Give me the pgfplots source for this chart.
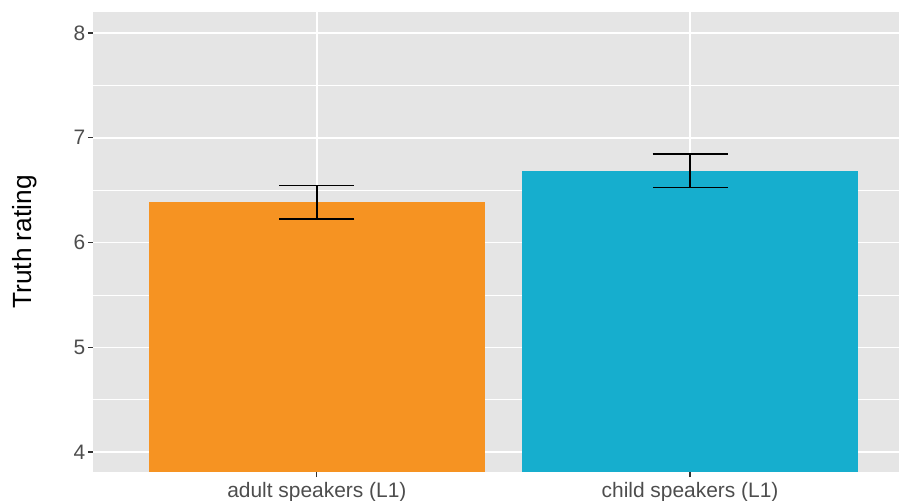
\documentclass[border=0pt]{standalone}
\usepackage{fontspec}
\setmainfont{Liberation Sans}
\usepackage{pgfplots}
\pgfplotsset{compat=1.18}
\definecolor{panelgray}{HTML}{E5E5E5}
\definecolor{barorange}{HTML}{F69322}
\definecolor{barblue}{HTML}{16AECE}
\definecolor{ticktext}{HTML}{4D4D4D}
\definecolor{tickmark}{HTML}{333333}
\begin{document}
\begin{tikzpicture}
\begin{axis}[
  name=ax,
  scale only axis, width=403bp, height=230bp,
  xmin=-0.6, xmax=1.56, ymin=3.81, ymax=8.2,
  axis background/.style={fill=panelgray},
  axis line style={draw=none},
  xtick={0,1}, xticklabels={adult speakers (L1), child speakers (L1)},
  ytick={4,5,6,7,8}, minor ytick={4.5,5.5,6.5,7.5},
  grid=both,
  major grid style={white, line width=0.8bp},
  minor grid style={white, line width=0.4bp},
  tick align=outside, xtick pos=bottom, ytick pos=left,
  major tick length=2.5bp, minor tick length=0pt,
  tick style={tickmark, line width=0.6bp},
  /pgf/number format/assume math mode=true,
  ticklabel style={font=\fontsize{10.5}{12}\selectfont, text=ticktext},
  yticklabel style={inner sep=0pt, xshift=-1.2bp, anchor=east},
  xticklabel style={inner sep=0pt, yshift=-2.5bp, anchor=north, font=\fontsize{10.5}{12}\selectfont},
  ylabel={Truth rating},
  every axis y label/.style={at={(axis description cs:-0.0844,0.5)}, rotate=90, anchor=center, font=\fontsize{13.2}{15}\selectfont},
  clip=true,
]
\addplot[ybar, bar width=0.9, bar shift=0pt, fill=barorange, draw=none,
  error bars/.cd, y dir=both, y explicit,
  error bar style={black, line width=0.9bp},
  error mark options={black, rotate=90, mark size=18.75bp, line width=0.9bp}]
  coordinates {(0,6.386) +- (0,0.159)};
\addplot[ybar, bar width=0.9, bar shift=0pt, fill=barblue, draw=none,
  error bars/.cd, y dir=both, y explicit,
  error bar style={black, line width=0.9bp},
  error mark options={black, rotate=90, mark size=18.75bp, line width=0.9bp}]
  coordinates {(1,6.684) +- (0,0.158)};
\end{axis}
\pgfresetboundingbox
\useasboundingbox ([shift={(-46.5bp,-14.5bp)}]ax.south west) rectangle ([shift={(0bp,6bp)}]ax.north east);
\end{tikzpicture}
\end{document}
